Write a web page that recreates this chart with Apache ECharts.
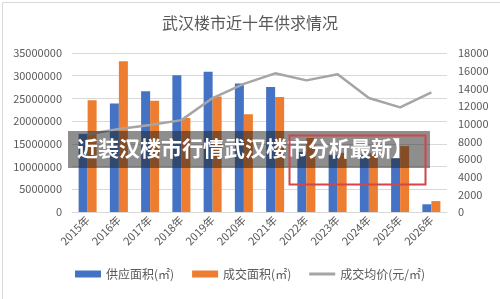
<!DOCTYPE html>
<html>
<head>
<meta charset="utf-8">
<script src="https://cdn.jsdelivr.net/npm/echarts@6/dist/echarts.min.js"></script>
<style>
  html, body { margin: 0; padding: 0; background: #fff; }
  #chart { width: 500px; height: 299px; }
</style>
</head>
<body>
<div id="chart"></div>
<script>
// 年份
const years = ['2015年', '2016年', '2017年', '2018年', '2019年', '2020年', '2021年', '2022年', '2023年', '2024年', '2025年', '2026年'];
// 供应面积(㎡)
const supplyArea = [17200000, 23900000, 26600000, 30100000, 30900000, 28300000, 27500000, 13200000, 12500000, 12600000, 11800000, 1700000];
// 成交面积(㎡)
const dealArea = [24600000, 33200000, 24500000, 20700000, 25400000, 21500000, 25300000, 16300000, 13000000, 12900000, 14500000, 2400000];
// 成交均价(元/㎡)
const avgPrice = [8800, 9400, 9850, 10400, 12900, 14500, 15700, 14900, 15600, 12900, 11850, 13550];

const axisColor = '#595959';
const font = '"Noto Sans CJK SC", "Noto Sans", sans-serif';

const chart = echarts.init(document.getElementById('chart'));

const option = {
    animation: false,
    textStyle: { fontFamily: font },
    title: {
        text: '武汉楼市近十年供求情况',
        left: 'center',
        top: 10,
        textStyle: {
            color: axisColor,
            fontSize: 16,
            fontWeight: 'normal',
            fontFamily: font
        }
    },
    legend: {
        bottom: 14,
        left: 'center',
        itemGap: 18,
        itemWidth: 26,
        itemHeight: 7,
        textStyle: { color: axisColor, fontSize: 12, fontFamily: font },
        data: [
            { name: '供应面积(㎡)', icon: 'rect' },
            { name: '成交面积(㎡)', icon: 'rect' },
            { name: '成交均价(元/㎡)', icon: 'path://M0,0 L26,0 L26,3 L0,3 Z' }
        ]
    },
    grid: {
        left: 72,
        right: 53,
        top: 53,
        bottom: 87
    },
    xAxis: {
        type: 'category',
        data: years,
        axisLine: { lineStyle: { color: '#d9d9d9' } },
        axisTick: { show: false },
        axisLabel: {
            color: axisColor,
            fontSize: 11,
            rotate: 45,
            margin: 6,
            interval: 0
        }
    },
    yAxis: [
        {
            type: 'value',
            min: 0,
            max: 35000000,
            interval: 5000000,
            axisLine: { show: false },
            axisTick: { show: false },
            axisLabel: { color: axisColor, fontSize: 11, margin: 10, formatter: v => String(v) },
            splitLine: { lineStyle: { color: '#d9d9d9' } }
        },
        {
            type: 'value',
            min: 0,
            max: 18000,
            interval: 2000,
            axisLine: { show: false },
            axisTick: { show: false },
            axisLabel: { color: axisColor, fontSize: 11, margin: 11, formatter: v => String(v) },
            splitLine: { show: false }
        }
    ],
    series: [
        {
            name: '供应面积(㎡)',
            type: 'bar',
            data: supplyArea,
            barWidth: 9,
            barGap: '0%',
            itemStyle: { color: '#4472C4' }
        },
        {
            name: '成交面积(㎡)',
            type: 'bar',
            data: dealArea,
            barWidth: 9,
            itemStyle: { color: '#ED7D31' }
        },
        {
            name: '成交均价(元/㎡)',
            type: 'line',
            yAxisIndex: 1,
            data: avgPrice,
            symbol: 'none',
            lineStyle: { color: '#A5A5A5', width: 2.5 },
            itemStyle: { color: '#A5A5A5' }
        }
    ],
    graphic: [
        {
            type: 'rect',
            left: 0,
            top: 0,
            shape: { width: 499, height: 298 },
            style: { fill: 'none', stroke: '#d9d9d9', lineWidth: 1 },
            silent: true
        },
        {
            type: 'rect',
            left: 68,
            top: 131,
            z: 100,
            shape: { width: 362, height: 37 },
            style: { fill: 'rgba(30, 30, 30, 0.5)' },
            silent: true
        },
        {
            type: 'text',
            left: 77,
            top: 138,
            z: 101,
            style: {
                text: '近装汉楼市行情武汉楼市分析最新】',
                fill: '#fff',
                font: 'bold 21px "Noto Sans CJK SC", sans-serif'
            },
            silent: true
        },
        {
            type: 'rect',
            left: 287,
            top: 133,
            z: 102,
            shape: { width: 136, height: 49 },
            style: { fill: 'none', stroke: '#d2464b', lineWidth: 2 },
            silent: true
        }
    ]
};

chart.setOption(option);
</script>
</body>
</html>
